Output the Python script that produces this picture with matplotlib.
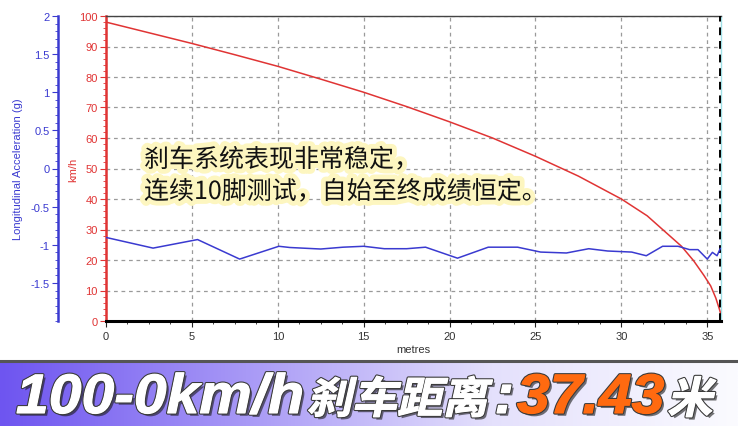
import matplotlib
matplotlib.use('Agg')
import matplotlib.pyplot as plt
import matplotlib.patheffects as pe
from matplotlib.colors import LinearSegmentedColormap
from matplotlib.ticker import AutoMinorLocator, MultipleLocator
from matplotlib.transforms import Affine2D
import numpy as np

# speed trace (km/h) against distance (m)
speed_dist = [0, 2.5, 5, 7.5, 10, 12.5, 15, 17.5, 20, 22.5, 25, 27.5, 30,
              31.5, 32.5, 33.5, 34.2, 34.8, 35.2, 35.5, 35.7, 35.8]
speed_kmh = [98, 94.5, 91, 87.3, 83.5, 79.3, 75, 70.3, 65.3, 60, 54, 47.5, 40,
             34.5, 29.5, 24.5, 19.8, 15, 11.5, 7.5, 4, 2]

# longitudinal acceleration (g) against distance (m)
acc_dist = [0, 2.74, 5.33, 7.78, 10.06, 10.7, 12.5, 13.8, 15.0, 16.2, 17.5, 18.6,
            20.46, 22.25, 23.96, 25.3, 26.8, 28.1, 29.2, 30.6, 31.45, 32.4, 33.3,
            33.97, 34.46, 35.0, 35.3, 35.57, 35.76]
acc_g = [-0.904, -1.044, -0.932, -1.188, -1.02, -1.036, -1.056, -1.032, -1.02,
         -1.052, -1.052, -1.032, -1.176, -1.032, -1.032, -1.096, -1.108, -1.052,
         -1.082, -1.096, -1.144, -1.02, -1.02, -1.064, -1.064, -1.188, -1.10,
         -1.144, -1.048]

kmh_ticks = [0, 10, 20, 30, 40, 50, 60, 70, 80, 90, 100]
acc_ticks = [-1.5, -1, -0.5, 0, 0.5, 1, 1.5, 2]
acc_labels = ['-1.5', '-1', '-0.5', '0', '0.5', '1', '1.5', '2']
dist_ticks = [0, 5, 10, 15, 20, 25, 30, 35]
stop_dist = 35.75

note_lines = ['刹车系统表现非常稳定，', '连续10脚测试，自始至终成绩恒定。']
banner_parts = [('100-0km/h', 'white', 'latin'), ('刹车距离', 'white', 'cjk'),
                (':', 'white', 'latin'), ('37.43', '#ff6a10', 'latin'), ('米', 'white', 'cjk')]


class Slant(pe.AbstractPathEffect):
    # stretch / slant the glyph outlines about the text anchor, then run the inner effects
    def __init__(self, x0, y0, sx=1.0, skew=0.0, inner=()):
        super().__init__()
        self.x0, self.y0, self.sx, self.skew = x0, y0, sx, skew
        self.inner = inner

    def draw_path(self, renderer, gc, tpath, affine, rgbFace=None):
        t = affine + Affine2D().translate(-self.x0, -self.y0).skew_deg(self.skew, 0) \
            .scale(self.sx, 1).translate(self.x0, self.y0)
        for e in self.inner:
            e.draw_path(renderer, gc, tpath, t, rgbFace)


W, H = 738, 427
RED = '#e03434'
BLUE = '#3a3ad0'
fig = plt.figure(figsize=(W / 100, H / 100), dpi=100)
plt.rcParams['font.family'] = ['Liberation Sans', 'DejaVu Sans']

L, R, T, B = 106, 721, 17, 322
ax = fig.add_axes([L / W, 1 - B / H, (R - L) / W, (B - T) / H])
ax.set_xlim(0, 35.8)
ax.set_ylim(0, 100)
ax.plot(speed_dist, speed_kmh, color=RED, lw=1.1, zorder=4)
ax.axvline(stop_dist, color='black', lw=1.4, ls=(0, (4, 3)), zorder=5)

ax.set_xticks(dist_ticks)
ax.xaxis.set_minor_locator(AutoMinorLocator(4))
ax.set_yticks(kmh_ticks)
ax.yaxis.set_minor_locator(AutoMinorLocator(5))
ax.grid(True, which='major', color='#9a9a9a', ls=(0, (3, 3)), lw=0.9)
ax.tick_params(axis='x', which='major', length=4, labelsize=8, labelcolor='#333333', color='#222222')
ax.tick_params(axis='x', which='minor', length=2.5, color='#222222')
ax.tick_params(axis='y', which='major', length=4, labelsize=8, labelcolor=RED, color=RED, pad=2)
ax.tick_params(axis='y', which='minor', length=2, color=RED)
ax.spines['left'].set_color(RED)
ax.spines['left'].set_linewidth(1.8)
ax.spines['bottom'].set_color('black')
ax.spines['bottom'].set_linewidth(2.2)
ax.spines['top'].set_color('#444444')
ax.spines['top'].set_linewidth(1.0)
ax.spines['right'].set_color('#9fe0e6')
ax.spines['right'].set_linewidth(1.0)
ax.set_xlabel('metres', fontsize=8, color='#333333', labelpad=2)
ax.set_ylabel('km/h', fontsize=8, color=RED)
ax.yaxis.set_label_coords((78 - L) / (R - L), 0.5)

ax2 = ax.twinx()
ax2.set_ylim(-2, 2)
ax2.plot(acc_dist, acc_g, color=BLUE, lw=1.1, zorder=4)
ax2.yaxis.set_ticks_position('left')
ax2.yaxis.set_label_position('left')
ax2.spines['left'].set_position(('axes', (58 - L) / (R - L)))
ax2.spines['left'].set_visible(True)
ax2.spines['left'].set_color(BLUE)
ax2.spines['left'].set_linewidth(1.8)
for s in ['right', 'top', 'bottom']:
    ax2.spines[s].set_visible(False)
ax2.set_yticks(acc_ticks)
ax2.set_yticklabels(acc_labels)
ax2.yaxis.set_minor_locator(MultipleLocator(0.1))
ax2.tick_params(axis='y', which='major', length=4, labelsize=8, labelcolor=BLUE, color=BLUE, pad=2)
ax2.tick_params(axis='y', which='minor', length=2, color=BLUE)
ax2.set_ylabel('Longitudinal Acceleration (g)', fontsize=8, color=BLUE)
ax2.yaxis.set_label_coords((23 - L) / (R - L), 0.5)

glow = [pe.withStroke(linewidth=7, foreground='#fdf6c0')]
for i, line in enumerate(note_lines):
    fig.text(144 / W, 1 - (161 + 32 * i) / H, line, fontsize=18, color='#111111',
             family=['Noto Sans CJK SC', 'DejaVu Sans'], va='center', ha='left',
             path_effects=glow, zorder=10)

# banner with gradient
bn = fig.add_axes([0, 0, 1, (H - 362) / H])
cmap = LinearSegmentedColormap.from_list('bn', ['#6e55f0', '#a899f6', '#e4e0fc', '#fbfbff'])
bn.imshow(np.linspace(0, 1, 256)[None, :], aspect='auto', cmap=cmap, extent=[0, 1, 0, 1])
bn.set_xlim(0, 1)
bn.set_ylim(0, 1)
bn.axis('off')
fig.add_artist(plt.Line2D([0, 1], [1 - 362 / H, 1 - 362 / H], color='#555555', lw=2.2))

fig.canvas.draw()
renderer = fig.canvas.get_renderer()
x = 16
texts = []
for txt, col, kind in banner_parts:
    if kind == 'latin':
        kw = dict(family=['Liberation Sans', 'DejaVu Sans'], fontsize=40,
                  fontweight='bold', style='italic')
        sx, sk = 1.06, 0
    else:
        kw = dict(family=['Noto Sans CJK SC', 'DejaVu Sans'], fontsize=31, fontweight='black')
        sx, sk = 1.05, 12
    inner = [pe.SimplePatchShadow(offset=(2, -2), shadow_rgbFace='#1a1a1a', alpha=0.6),
             pe.Stroke(linewidth=2.4, foreground='#3a3a3a'),
             pe.Stroke(linewidth=0.8, foreground=col),
             pe.Normal()]
    eff = Slant(x, 0, sx, sk, inner)
    t = fig.text(x / W, 0, txt, color=col, va='baseline', ha='left', zorder=20,
                 path_effects=[eff], **kw)
    bb = t.get_window_extent(renderer)
    texts.append((t, eff, x, bb.y0))
    x = x + sx * (bb.x1 - x) + (7 if kind == 'cjk' else 3)

# lift the baseline so no text box hangs below the figure
base = -min(d for _, _, _, d in texts) + 1
for t, eff, x0, _ in texts:
    t.set_position((x0 / W, base / H))
    eff.y0 = base

fig.savefig('out.png', dpi=100)
